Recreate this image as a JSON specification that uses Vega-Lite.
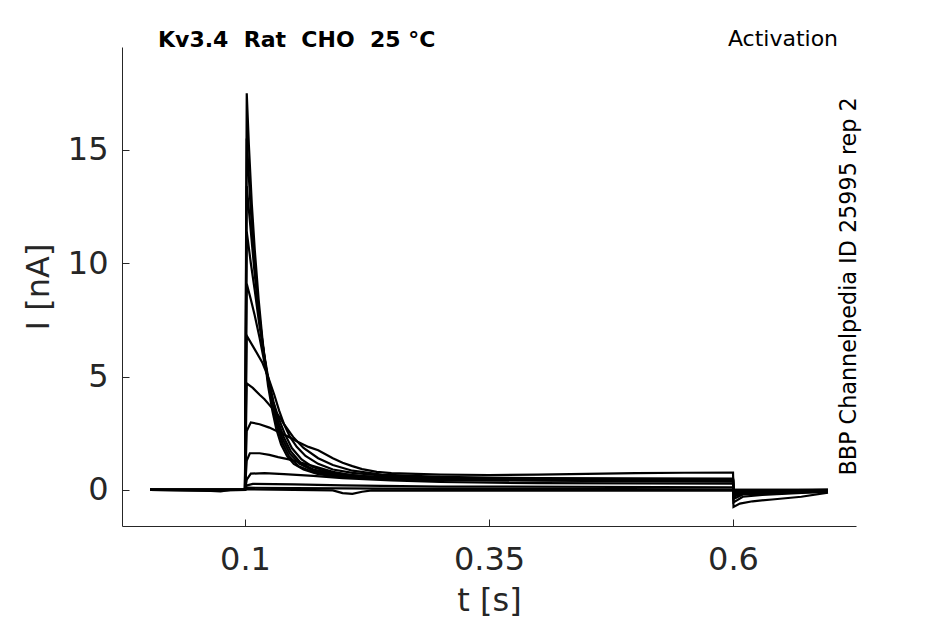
{
  "$schema": "https://vega.github.io/schema/vega-lite/v6.json",
  "width": 734,
  "height": 479,
  "autosize": {"type": "none"},
  "padding": {"left": 122, "top": 47, "right": 89, "bottom": 98},
  "background": "white",
  "config": {
    "view": {"stroke": null},
    "axis": {
      "grid": false,
      "domainColor": "#262626",
      "tickColor": "#262626",
      "labelColor": "#262626",
      "titleColor": "#262626",
      "labelFont": "DejaVu Sans",
      "titleFont": "DejaVu Sans",
      "labelFontSize": 32,
      "titleFontSize": 32,
      "titleFontWeight": "normal",
      "tickSize": -7,
      "domainWidth": 1,
      "tickWidth": 1
    }
  },
  "layer": [
    {
      "data": {"values": [
        {"trace":"T1","t":0.0027,"I":0},{"trace":"T1","t":0.05,"I":0.0},{"trace":"T1","t":0.1,"I":0},{"trace":"T1","t":0.1018,"I":17.5},{"trace":"T1","t":0.104,"I":15.2},{"trace":"T1","t":0.107,"I":12.6},{"trace":"T1","t":0.11,"I":10.6},{"trace":"T1","t":0.114,"I":8.4},{"trace":"T1","t":0.118,"I":6.6},{"trace":"T1","t":0.1236,"I":4.6},{"trace":"T1","t":0.128,"I":3.5},{"trace":"T1","t":0.132,"I":2.7},{"trace":"T1","t":0.137,"I":2.0},{"trace":"T1","t":0.143,"I":1.5},{"trace":"T1","t":0.15,"I":1.15},{"trace":"T1","t":0.16,"I":0.9},{"trace":"T1","t":0.175,"I":0.7},{"trace":"T1","t":0.2,"I":0.56},{"trace":"T1","t":0.25,"I":0.47},{"trace":"T1","t":0.3,"I":0.43},{"trace":"T1","t":0.4,"I":0.41},{"trace":"T1","t":0.5,"I":0.39},{"trace":"T1","t":0.6,"I":0.37},{"trace":"T1","t":0.6005,"I":-0.75},{"trace":"T1","t":0.607,"I":-0.6},{"trace":"T1","t":0.62,"I":-0.5},{"trace":"T1","t":0.64,"I":-0.42},{"trace":"T1","t":0.67,"I":-0.3},{"trace":"T1","t":0.6973,"I":-0.12},
        {"trace":"T2","t":0.0027,"I":0},{"trace":"T2","t":0.1,"I":0},{"trace":"T2","t":0.1018,"I":15.5},{"trace":"T2","t":0.105,"I":13.0},{"trace":"T2","t":0.109,"I":10.4},{"trace":"T2","t":0.114,"I":8.0},{"trace":"T2","t":0.119,"I":6.1},{"trace":"T2","t":0.1236,"I":4.8},{"trace":"T2","t":0.128,"I":3.7},{"trace":"T2","t":0.133,"I":2.8},{"trace":"T2","t":0.138,"I":2.1},{"trace":"T2","t":0.145,"I":1.5},{"trace":"T2","t":0.155,"I":1.05},{"trace":"T2","t":0.17,"I":0.78},{"trace":"T2","t":0.2,"I":0.6},{"trace":"T2","t":0.25,"I":0.5},{"trace":"T2","t":0.35,"I":0.45},{"trace":"T2","t":0.45,"I":0.43},{"trace":"T2","t":0.6,"I":0.4},{"trace":"T2","t":0.6005,"I":-0.55},{"trace":"T2","t":0.61,"I":-0.3},{"trace":"T2","t":0.63,"I":-0.22},{"trace":"T2","t":0.66,"I":-0.15},{"trace":"T2","t":0.6973,"I":-0.08},
        {"trace":"T3","t":0.0027,"I":0},{"trace":"T3","t":0.065,"I":-0.04},{"trace":"T3","t":0.075,"I":-0.06},{"trace":"T3","t":0.085,"I":0},{"trace":"T3","t":0.1,"I":0},{"trace":"T3","t":0.1018,"I":13.4},{"trace":"T3","t":0.106,"I":11.4},{"trace":"T3","t":0.11,"I":9.5},{"trace":"T3","t":0.115,"I":7.5},{"trace":"T3","t":0.12,"I":5.8},{"trace":"T3","t":0.1236,"I":4.9},{"trace":"T3","t":0.129,"I":3.7},{"trace":"T3","t":0.134,"I":2.8},{"trace":"T3","t":0.139,"I":2.2},{"trace":"T3","t":0.146,"I":1.6},{"trace":"T3","t":0.156,"I":1.15},{"trace":"T3","t":0.17,"I":0.85},{"trace":"T3","t":0.2,"I":0.62},{"trace":"T3","t":0.25,"I":0.5},{"trace":"T3","t":0.35,"I":0.45},{"trace":"T3","t":0.6,"I":0.42},{"trace":"T3","t":0.6005,"I":-0.4},{"trace":"T3","t":0.61,"I":-0.2},{"trace":"T3","t":0.64,"I":-0.15},{"trace":"T3","t":0.6973,"I":-0.07},
        {"trace":"T4","t":0.0027,"I":0},{"trace":"T4","t":0.1,"I":0},{"trace":"T4","t":0.1018,"I":11.4},{"trace":"T4","t":0.106,"I":10.0},{"trace":"T4","t":0.11,"I":8.8},{"trace":"T4","t":0.115,"I":7.2},{"trace":"T4","t":0.12,"I":5.9},{"trace":"T4","t":0.1236,"I":5.0},{"trace":"T4","t":0.129,"I":3.9},{"trace":"T4","t":0.134,"I":3.0},{"trace":"T4","t":0.14,"I":2.3},{"trace":"T4","t":0.147,"I":1.7},{"trace":"T4","t":0.157,"I":1.2},{"trace":"T4","t":0.17,"I":0.9},{"trace":"T4","t":0.2,"I":0.65},{"trace":"T4","t":0.25,"I":0.52},{"trace":"T4","t":0.35,"I":0.46},{"trace":"T4","t":0.6,"I":0.43},{"trace":"T4","t":0.6005,"I":-0.3},{"trace":"T4","t":0.61,"I":-0.15},{"trace":"T4","t":0.65,"I":-0.1},{"trace":"T4","t":0.6973,"I":-0.05},
        {"trace":"T5","t":0.0027,"I":0},{"trace":"T5","t":0.07,"I":-0.03},{"trace":"T5","t":0.1,"I":0},{"trace":"T5","t":0.1018,"I":9.1},{"trace":"T5","t":0.106,"I":8.4},{"trace":"T5","t":0.11,"I":7.7},{"trace":"T5","t":0.115,"I":6.7},{"trace":"T5","t":0.12,"I":5.6},{"trace":"T5","t":0.1236,"I":4.9},{"trace":"T5","t":0.129,"I":3.9},{"trace":"T5","t":0.135,"I":3.1},{"trace":"T5","t":0.141,"I":2.45},{"trace":"T5","t":0.148,"I":1.85},{"trace":"T5","t":0.158,"I":1.35},{"trace":"T5","t":0.17,"I":1.0},{"trace":"T5","t":0.19,"I":0.75},{"trace":"T5","t":0.22,"I":0.6},{"trace":"T5","t":0.3,"I":0.5},{"trace":"T5","t":0.45,"I":0.45},{"trace":"T5","t":0.6,"I":0.42},{"trace":"T5","t":0.6005,"I":-0.2},{"trace":"T5","t":0.62,"I":-0.1},{"trace":"T5","t":0.6973,"I":-0.04},
        {"trace":"T6","t":0.0027,"I":0},{"trace":"T6","t":0.1,"I":0},{"trace":"T6","t":0.1018,"I":6.8},{"trace":"T6","t":0.11,"I":6.2},{"trace":"T6","t":0.118,"I":5.6},{"trace":"T6","t":0.1236,"I":5.0},{"trace":"T6","t":0.13,"I":4.2},{"trace":"T6","t":0.135,"I":3.5},{"trace":"T6","t":0.14,"I":2.9},{"trace":"T6","t":0.146,"I":2.35},{"trace":"T6","t":0.153,"I":1.9},{"trace":"T6","t":0.162,"I":1.5},{"trace":"T6","t":0.175,"I":1.15},{"trace":"T6","t":0.19,"I":0.9},{"trace":"T6","t":0.21,"I":0.75},{"trace":"T6","t":0.25,"I":0.6},{"trace":"T6","t":0.35,"I":0.5},{"trace":"T6","t":0.6,"I":0.46},{"trace":"T6","t":0.6005,"I":-0.15},{"trace":"T6","t":0.63,"I":-0.06},{"trace":"T6","t":0.6973,"I":-0.03},
        {"trace":"T7","t":0.0027,"I":0},{"trace":"T7","t":0.1,"I":0},{"trace":"T7","t":0.1018,"I":4.7},{"trace":"T7","t":0.108,"I":4.5},{"trace":"T7","t":0.115,"I":4.2},{"trace":"T7","t":0.12,"I":4.0},{"trace":"T7","t":0.128,"I":3.6},{"trace":"T7","t":0.134,"I":3.3},{"trace":"T7","t":0.14,"I":2.9},{"trace":"T7","t":0.15,"I":2.3},{"trace":"T7","t":0.16,"I":1.85},{"trace":"T7","t":0.175,"I":1.4},{"trace":"T7","t":0.19,"I":1.1},{"trace":"T7","t":0.21,"I":0.85},{"trace":"T7","t":0.24,"I":0.68},{"trace":"T7","t":0.3,"I":0.58},{"trace":"T7","t":0.4,"I":0.52},{"trace":"T7","t":0.6,"I":0.5},{"trace":"T7","t":0.6005,"I":-0.1},{"trace":"T7","t":0.6973,"I":-0.02},
        {"trace":"T8","t":0.0027,"I":0},{"trace":"T8","t":0.1,"I":0},{"trace":"T8","t":0.1018,"I":2.6},{"trace":"T8","t":0.106,"I":2.98},{"trace":"T8","t":0.115,"I":2.9},{"trace":"T8","t":0.125,"I":2.75},{"trace":"T8","t":0.135,"I":2.55},{"trace":"T8","t":0.144,"I":2.36},{"trace":"T8","t":0.155,"I":2.1},{"trace":"T8","t":0.165,"I":1.9},{"trace":"T8","t":0.175,"I":1.75},{"trace":"T8","t":0.19,"I":1.4},{"trace":"T8","t":0.2,"I":1.2},{"trace":"T8","t":0.21,"I":1.05},{"trace":"T8","t":0.22,"I":0.92},{"trace":"T8","t":0.235,"I":0.8},{"trace":"T8","t":0.25,"I":0.74},{"trace":"T8","t":0.3,"I":0.68},{"trace":"T8","t":0.35,"I":0.66},{"trace":"T8","t":0.4,"I":0.68},{"trace":"T8","t":0.45,"I":0.71},{"trace":"T8","t":0.5,"I":0.74},{"trace":"T8","t":0.55,"I":0.76},{"trace":"T8","t":0.6,"I":0.77},{"trace":"T8","t":0.6005,"I":-0.05},{"trace":"T8","t":0.6973,"I":0},
        {"trace":"T9","t":0.0027,"I":0},{"trace":"T9","t":0.1,"I":0},{"trace":"T9","t":0.1018,"I":1.3},{"trace":"T9","t":0.105,"I":1.62},{"trace":"T9","t":0.115,"I":1.62},{"trace":"T9","t":0.125,"I":1.55},{"trace":"T9","t":0.134,"I":1.45},{"trace":"T9","t":0.145,"I":1.35},{"trace":"T9","t":0.158,"I":1.2},{"trace":"T9","t":0.17,"I":1.05},{"trace":"T9","t":0.19,"I":0.8},{"trace":"T9","t":0.21,"I":0.65},{"trace":"T9","t":0.24,"I":0.55},{"trace":"T9","t":0.3,"I":0.5},{"trace":"T9","t":0.4,"I":0.48},{"trace":"T9","t":0.6,"I":0.47},{"trace":"T9","t":0.6005,"I":-0.03},{"trace":"T9","t":0.6973,"I":0},
        {"trace":"T10","t":0.0027,"I":0},{"trace":"T10","t":0.1,"I":0},{"trace":"T10","t":0.1018,"I":0.45},{"trace":"T10","t":0.106,"I":0.72},{"trace":"T10","t":0.12,"I":0.74},{"trace":"T10","t":0.14,"I":0.7},{"trace":"T10","t":0.17,"I":0.62},{"trace":"T10","t":0.2,"I":0.52},{"trace":"T10","t":0.25,"I":0.42},{"trace":"T10","t":0.3,"I":0.35},{"trace":"T10","t":0.4,"I":0.3},{"trace":"T10","t":0.6,"I":0.28},{"trace":"T10","t":0.6005,"I":0.0},{"trace":"T10","t":0.6973,"I":0},
        {"trace":"T11","t":0.0027,"I":0},{"trace":"T11","t":0.1,"I":0},{"trace":"T11","t":0.1018,"I":0.2},{"trace":"T11","t":0.108,"I":0.27},{"trace":"T11","t":0.15,"I":0.25},{"trace":"T11","t":0.2,"I":0.2},{"trace":"T11","t":0.3,"I":0.15},{"trace":"T11","t":0.6,"I":0.12},{"trace":"T11","t":0.6005,"I":0},{"trace":"T11","t":0.6973,"I":0},
        {"trace":"T12","t":0.0027,"I":0},{"trace":"T12","t":0.1,"I":0},{"trace":"T12","t":0.1018,"I":0.1},{"trace":"T12","t":0.15,"I":0.08},{"trace":"T12","t":0.3,"I":0.05},{"trace":"T12","t":0.6,"I":0.03},{"trace":"T12","t":0.6005,"I":-0.02},{"trace":"T12","t":0.6973,"I":-0.02},
        {"trace":"T13","t":0.0027,"I":0},{"trace":"T13","t":0.1,"I":0},{"trace":"T13","t":0.1018,"I":0.03},{"trace":"T13","t":0.15,"I":0.0},{"trace":"T13","t":0.19,"I":-0.02},{"trace":"T13","t":0.2,"I":-0.14},{"trace":"T13","t":0.21,"I":-0.17},{"trace":"T13","t":0.22,"I":-0.08},{"trace":"T13","t":0.23,"I":-0.02},{"trace":"T13","t":0.4,"I":-0.03},{"trace":"T13","t":0.6,"I":-0.03},{"trace":"T13","t":0.6005,"I":-0.05},{"trace":"T13","t":0.6973,"I":-0.04}
      ]},
      "mark": {"type": "line", "color": "black", "strokeWidth": 2.2, "clip": true},
      "encoding": {
        "x": {
          "field": "t", "type": "quantitative",
          "scale": {"domain": [-0.026, 0.726], "nice": false, "zero": false},
          "axis": {"values": [0.1, 0.35, 0.6], "format": "~g", "title": "t [s]", "labelPadding": 25, "titlePadding": 10}
        },
        "y": {
          "field": "I", "type": "quantitative",
          "scale": {"domain": [-1.59, 19.54], "nice": false, "zero": false},
          "axis": {"values": [0, 5, 10, 15], "title": "I [nA]", "labelPadding": 21, "titlePadding": 12}
        },
        "detail": {"field": "trace", "type": "nominal"}
      }
    },
    {
      "data": {"values": [{}]},
      "mark": {"type": "text", "text": "Kv3.4\u00a0\u00a0Rat\u00a0\u00a0CHO\u00a0\u00a025\u00a0°C", "font": "DejaVu Sans", "fontWeight": "bold", "fontSize": 22, "align": "left", "baseline": "alphabetic", "color": "black"},
      "encoding": {"x": {"datum": 0.0109}, "y": {"datum": 19.54}}
    },
    {
      "data": {"values": [{}]},
      "mark": {"type": "text", "text": "Activation", "font": "DejaVu Sans", "fontSize": 22, "align": "right", "baseline": "alphabetic", "dy": -1, "color": "black"},
      "encoding": {"x": {"datum": 0.7076}, "y": {"datum": 19.54}}
    },
    {
      "data": {"values": [{}]},
      "mark": {"type": "text", "text": "BBP Channelpedia ID 25995 rep 2", "font": "DejaVu Sans", "fontSize": 22.3, "align": "center", "baseline": "alphabetic", "angle": 270, "color": "black"},
      "encoding": {"x": {"datum": 0.726}, "y": {"datum": 8.98}}
    }
  ]
}
